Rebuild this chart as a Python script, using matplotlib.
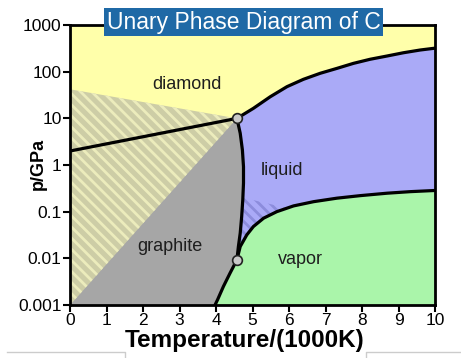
import numpy as np
import matplotlib
matplotlib.use("Agg")
from matplotlib import pyplot as plt
from matplotlib.patches import Polygon
from matplotlib.lines import Line2D

plt.rcParams['font.family'] = ['Liberation Sans', 'DejaVu Sans']
plt.rcParams['hatch.linewidth'] = 2.0

# phase boundaries (T in 1000K, p in GPa)
T_gd = [0.0, 4.57]
p_gd = [2.0, 10.0]

T_dl = [4.57, 5.02, 5.48, 5.94, 6.39, 6.85, 7.31, 7.76, 8.22, 8.68, 9.13, 9.59, 10.0]
p_dl = [10.0, 16.4, 29.0, 47.8, 68.7, 92.5, 118, 151, 185, 217, 255, 292, 320]

T_gl = [4.57, 4.66, 4.72, 4.75, 4.75, 4.73, 4.70, 4.66, 4.61, 4.57]
p_gl = [10.0, 4.8, 2.1, 0.92, 0.41, 0.179, 0.0785, 0.0347, 0.0179, 0.0093]

T_lv = [4.57, 4.66, 4.84, 5.02, 5.30, 5.66, 6.12, 6.67, 7.31, 7.95, 8.68, 9.32, 10.0]
p_lv = [0.0093, 0.0179, 0.0318, 0.048, 0.0726, 0.100, 0.133, 0.164, 0.195, 0.221, 0.249, 0.269, 0.285]

T_gv = [3.97, 4.04, 4.20, 4.38, 4.57]
p_gv = [0.001, 0.0013, 0.0025, 0.0048, 0.0093]

# metastable hatched regions
T_meta = [0.0, 4.57, 0.0]
p_meta = [0.001, 10.0, 42.0]

T_wedge = [4.73, 4.70, 4.66, 4.61, 4.57, 4.66, 4.84, 5.02, 5.30, 5.66, 5.94]
p_wedge = [0.2, 0.0785, 0.0347, 0.0179, 0.0093, 0.0179, 0.0318, 0.048, 0.0726, 0.100, 0.12]

triple_T = [4.57, 4.57]
triple_p = [10.0, 0.0093]

labels = ["diamond", "liquid", "graphite", "vapor"]
label_T = [3.2, 5.8, 2.74, 6.3]
label_p = [52.0, 0.78, 0.0179, 0.0093]

c_diamond = '#ffffaa'
c_liquid = '#aaaaf7'
c_vapor = '#aaf5aa'
c_graphite = '#a6a6a6'

fig = plt.figure(figsize=(4.61, 3.58), dpi=100)
ax = fig.add_axes([0.152, 0.148, 0.792, 0.782])
ax.set_yscale('log')
ax.set_xlim(0, 10)
ax.set_ylim(0.001, 1000)
ax.set_facecolor(c_diamond)

# liquid
liq = list(zip(T_dl, p_dl)) + list(zip(T_lv[::-1], p_lv[::-1])) + list(zip(T_gl[::-1], p_gl[::-1]))
ax.add_patch(Polygon(liq, closed=True, facecolor=c_liquid, edgecolor='none'))
# vapor
vap = list(zip(T_lv, p_lv)) + [(10, 0.001)] + list(zip(T_gv, p_gv))
ax.add_patch(Polygon(vap, closed=True, facecolor=c_vapor, edgecolor='none'))
# graphite
gra = [(0, 0.001)] + list(zip(T_gv, p_gv)) + list(zip(T_gl[::-1], p_gl[::-1])) + [(0, p_gd[0])]
ax.add_patch(Polygon(gra, closed=True, facecolor=c_graphite, edgecolor='none'))
# metastable regions
ax.add_patch(Polygon(list(zip(T_meta, p_meta)), closed=True, facecolor='#cdcda6',
                     edgecolor='#ececbc', hatch='\\\\\\', linewidth=0))
ax.add_patch(Polygon(list(zip(T_wedge, p_wedge)), closed=True, facecolor=c_liquid,
                     edgecolor='#8c8cdc', hatch='\\\\\\', linewidth=0))

for T, p in [(T_gd, p_gd), (T_dl, p_dl), (T_gl, p_gl), (T_lv, p_lv), (T_gv, p_gv)]:
    ax.plot(T, p, color='black', lw=2.3, solid_capstyle='round', solid_joinstyle='round', zorder=4)

ax.plot(triple_T, triple_p, 'o', ms=7, mfc='#c8c8c8', mec='#222222', mew=1.2, zorder=5)

for s, T, p in zip(labels, label_T, label_p):
    ax.text(T, p, s, ha='center', va='center', fontsize=13, color='#1e1e1e', zorder=6)

ax.set_xticks(range(11))
ax.set_xticklabels([str(i) for i in range(11)])
ax.set_yticks([0.001, 0.01, 0.1, 1, 10, 100, 1000])
ax.set_yticklabels(['0.001', '0.01', '0.1', '1', '10', '100', '1000'])
ax.yaxis.set_minor_locator(matplotlib.ticker.NullLocator())
ax.tick_params(direction='out', length=5, width=1.5, labelsize=12.5, pad=1)
for sp in ax.spines.values():
    sp.set_linewidth(2)
    sp.set_zorder(7)

ax.set_xlabel('Temperature/(1000K)', fontsize=17.5, fontweight='bold', va='center')
ax.xaxis.set_label_coords(0.479, -0.125)
ax.set_ylabel('p/GPa', fontsize=13, fontweight='bold', va='center')
ax.yaxis.set_label_coords(-0.088, 0.505)

fig.text(0.529, 0.9385, 'Unary Phase Diagram of C', ha='center', va='center', fontsize=16.5,
         color='white', zorder=10,
         bbox=dict(boxstyle='square,pad=0.12', facecolor='#1f69a6', edgecolor='none'))

# light frame lines at the bottom
fig.add_artist(Line2D([7/461, 125/461, 125/461], [1-352/358, 1-352/358, 0], color='#cccccc', lw=1))
fig.add_artist(Line2D([1, 366/461, 366/461], [1-352/358, 1-352/358, 0], color='#cccccc', lw=1))

fig.savefig('out.png', dpi=100)
